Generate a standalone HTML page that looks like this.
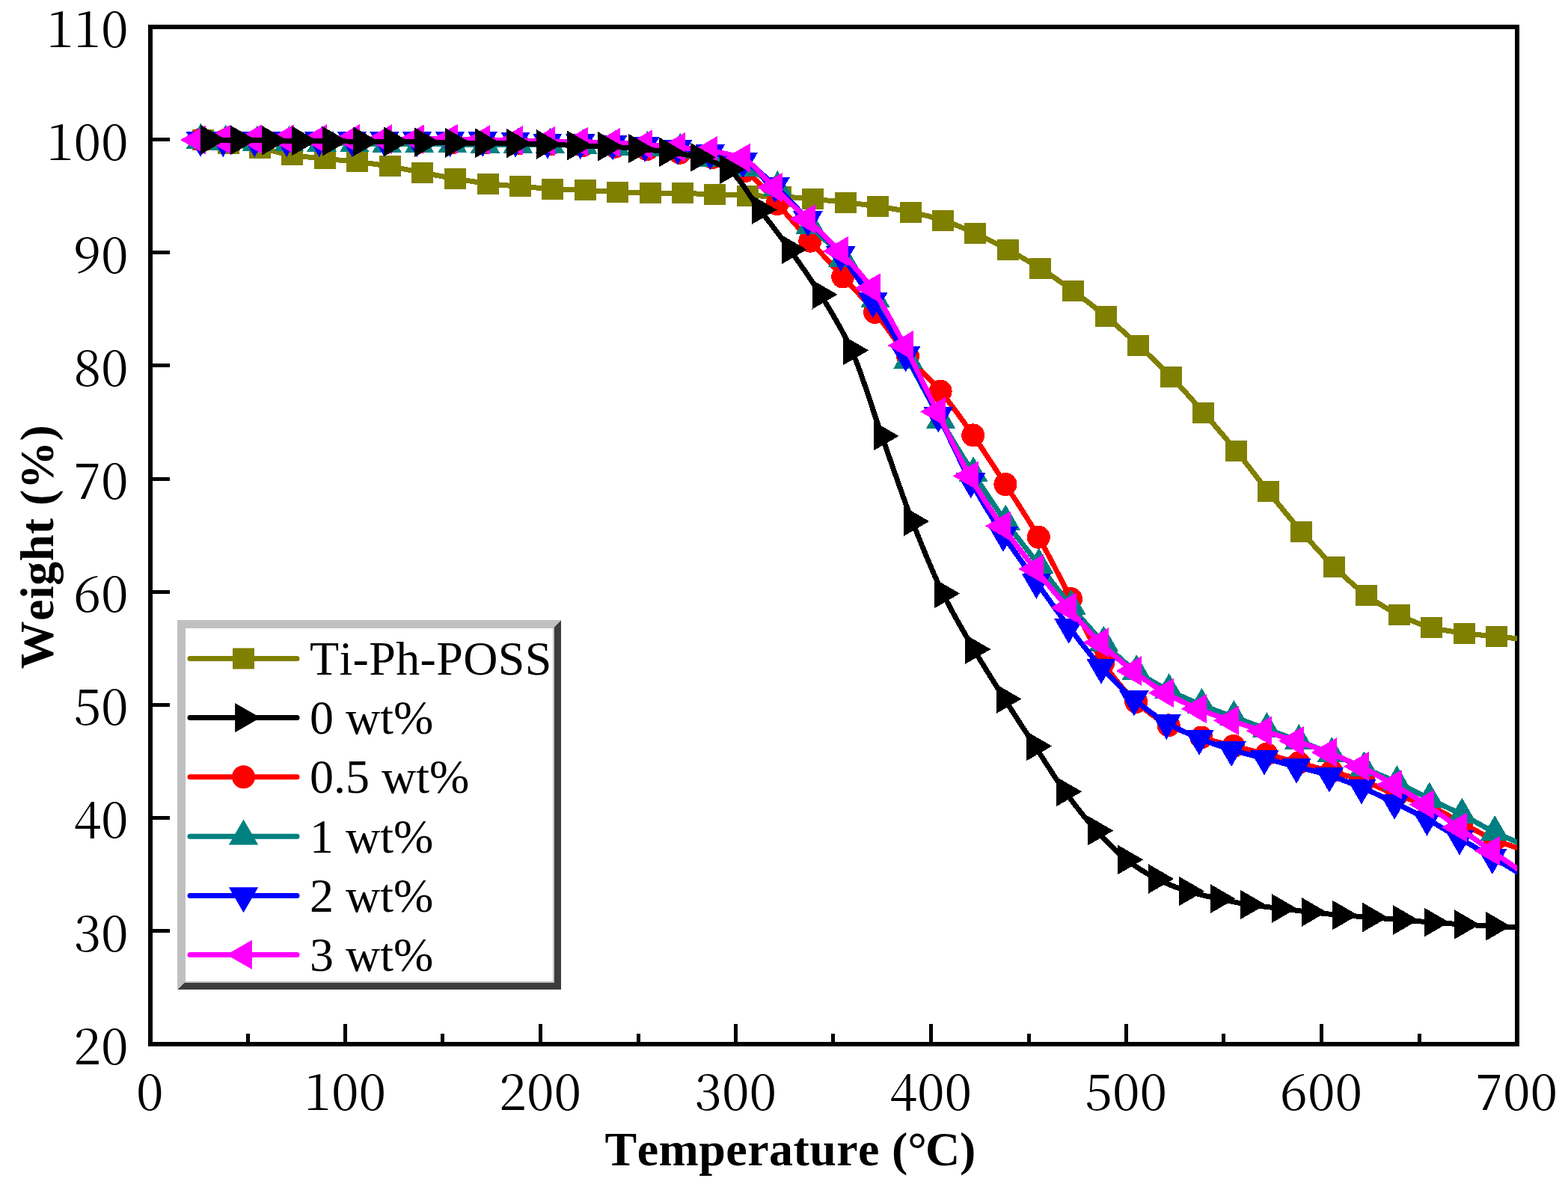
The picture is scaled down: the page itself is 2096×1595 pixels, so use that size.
<!DOCTYPE html>
<html lang="en"><head><meta charset="utf-8"><title>TGA curves</title>
<style>
html,body{margin:0;padding:0;background:#fff;}
body{width:2096px;height:1595px;overflow:hidden;}
svg{display:block;}
text{font-kerning:none;font-variant-ligatures:none;}
.tk{font-family:"Noto Serif CJK SC","Liberation Serif",serif;font-size:66.5px;fill:#000;}
.lg{font-family:"Liberation Serif","Noto Serif CJK SC",serif;font-size:64px;fill:#000;}
.ti{font-family:"Liberation Serif","Noto Serif CJK SC",serif;font-size:64px;font-weight:bold;fill:#000;}
</style></head><body>
<svg width="2096" height="1595" viewBox="0 0 2096 1595">
<rect x="0" y="0" width="2096" height="1595" fill="#fff"/>
<g fill="#000" shape-rendering="crispEdges">
<rect x="198" y="33" width="1833" height="6"/>
<rect x="198" y="1393" width="1833" height="6"/>
<rect x="198" y="33" width="6" height="1366"/>
<rect x="2025" y="33" width="6" height="1366"/>
<rect x="198" y="1242" width="29" height="5"/>
<rect x="198" y="1091" width="29" height="5"/>
<rect x="198" y="940" width="29" height="5"/>
<rect x="198" y="789" width="29" height="5"/>
<rect x="198" y="638" width="29" height="5"/>
<rect x="198" y="486" width="29" height="5"/>
<rect x="198" y="335" width="29" height="5"/>
<rect x="198" y="184" width="29" height="5"/>
<rect x="329" y="1382" width="5" height="17"/>
<rect x="459" y="1369" width="5" height="30"/>
<rect x="589" y="1382" width="5" height="17"/>
<rect x="720" y="1369" width="5" height="30"/>
<rect x="851" y="1382" width="5" height="17"/>
<rect x="981" y="1369" width="5" height="30"/>
<rect x="1111" y="1382" width="5" height="17"/>
<rect x="1242" y="1369" width="5" height="30"/>
<rect x="1373" y="1382" width="5" height="17"/>
<rect x="1503" y="1369" width="5" height="30"/>
<rect x="1633" y="1382" width="5" height="17"/>
<rect x="1764" y="1369" width="5" height="30"/>
<rect x="1895" y="1382" width="5" height="17"/>
</g>
<defs><clipPath id="pc"><rect x="198" y="33" width="1830" height="1366"/></clipPath></defs>
<g clip-path="url(#pc)" shape-rendering="crispEdges">
<g fill="#808000" stroke="none">
<path d="M271.5 186.6C282.8 188.5 294.2 190.6 305.5 192.4C319.5 194.6 333.5 195.9 347.5 198.3C361.8 200.7 376.1 205.2 390.4 207.3C405 209.5 419.7 210.8 434.3 212.3C448.6 213.8 463 214.7 477.3 216.3C491.9 217.9 506.4 220 521 222.4C535.5 224.8 550 228.2 564.5 230.9C579 233.6 593.5 236.3 608 238.7C622.7 241.1 637.4 243.8 652.1 245.5C666.4 247.1 680.7 248.2 695 249.3C709.6 250.5 724.3 251.7 738.9 252.5C753.3 253.3 767.7 253.7 782.1 254.4C796.5 255.1 811 255.9 825.4 256.5C840.1 257.1 854.9 257.6 869.6 257.9C883.7 258.1 897.9 258.1 912 258.4C926.6 258.7 941.3 259.5 955.9 260C970.4 260.5 984.9 261 999.4 261.5C1013.9 262 1028.5 262.2 1043 262.8C1057.5 263.4 1072.1 264.9 1086.6 266.2C1101.1 267.5 1115.5 268.9 1130 270.5C1144.5 272.1 1158.9 273.9 1173.4 276C1188 278.1 1202.6 280.5 1217.2 283.5C1231.7 286.5 1246.1 290 1260.6 294.5C1274.9 299 1289.3 305.6 1303.6 312C1318.2 318.6 1332.9 326 1347.5 333.9C1362 341.7 1376.4 350 1390.9 359.1C1405.4 368.2 1419.9 378.2 1434.4 388.8C1449.1 399.5 1463.7 410.9 1478.4 423.1C1492.8 435.1 1507.2 448.2 1521.6 461.5C1536.3 475.1 1550.9 488.8 1565.6 503.9C1580 518.7 1594.3 535.2 1608.7 551.5C1623.3 568.1 1638 585.2 1652.6 603C1666.9 620.4 1681.2 639.7 1695.5 657.4C1710.2 675.5 1724.8 693.8 1739.5 710.5C1754 727 1768.5 743.5 1783 757.5C1797.5 771.5 1811.9 785.1 1826.4 795.5C1841.1 806 1855.7 815.3 1870.4 822.3C1884.7 829.1 1899.1 835.7 1913.4 839.1C1928.1 842.6 1942.8 844.6 1957.5 846.5C1971.9 848.4 1986.2 849.7 2000.6 851.1C2009.7 852 2018.9 852.9 2028 853.7C2038 854.6 2048 855.4 2058 856.3" fill="none" stroke="#808000" stroke-width="7" stroke-linejoin="round"/>
<rect x="257" y="172.6" width="29" height="28"/><rect x="291" y="178.4" width="29" height="28"/><rect x="333" y="184.3" width="29" height="28"/><rect x="375.9" y="193.3" width="29" height="28"/><rect x="419.8" y="198.3" width="29" height="28"/><rect x="462.8" y="202.3" width="29" height="28"/><rect x="506.5" y="208.4" width="29" height="28"/><rect x="550" y="216.9" width="29" height="28"/><rect x="593.5" y="224.7" width="29" height="28"/><rect x="637.6" y="231.5" width="29" height="28"/><rect x="680.5" y="235.3" width="29" height="28"/><rect x="724.4" y="238.5" width="29" height="28"/><rect x="767.6" y="240.4" width="29" height="28"/><rect x="810.9" y="242.5" width="29" height="28"/><rect x="855.1" y="243.9" width="29" height="28"/><rect x="897.5" y="244.4" width="29" height="28"/><rect x="941.4" y="246" width="29" height="28"/><rect x="984.9" y="247.5" width="29" height="28"/><rect x="1028.5" y="248.8" width="29" height="28"/><rect x="1072.1" y="252.2" width="29" height="28"/><rect x="1115.5" y="256.5" width="29" height="28"/><rect x="1158.9" y="262" width="29" height="28"/><rect x="1202.7" y="269.5" width="29" height="28"/><rect x="1246.1" y="280.5" width="29" height="28"/><rect x="1289.1" y="298" width="29" height="28"/><rect x="1333" y="319.9" width="29" height="28"/><rect x="1376.4" y="345.1" width="29" height="28"/><rect x="1419.9" y="374.8" width="29" height="28"/><rect x="1463.9" y="409.1" width="29" height="28"/><rect x="1507.1" y="447.5" width="29" height="28"/><rect x="1551.1" y="489.9" width="29" height="28"/><rect x="1594.2" y="537.5" width="29" height="28"/><rect x="1638.1" y="589" width="29" height="28"/><rect x="1681" y="643.4" width="29" height="28"/><rect x="1725" y="696.5" width="29" height="28"/><rect x="1768.5" y="743.5" width="29" height="28"/><rect x="1811.9" y="781.5" width="29" height="28"/><rect x="1855.9" y="808.3" width="29" height="28"/><rect x="1898.9" y="825.1" width="29" height="28"/><rect x="1943" y="832.5" width="29" height="28"/><rect x="1986.1" y="837.1" width="29" height="28"/>
</g>
<g fill="#ff0000" stroke="none">
<path d="M268 187C279.1 187.2 290.1 187.4 301.2 187.5C315.2 187.7 329.2 187.8 343.2 188C357.5 188.2 371.8 188.3 386.1 188.5C400.6 188.7 415.1 188.9 429.6 189C444.2 189.1 458.9 189.3 473.5 189.4C487.9 189.5 502.4 189.7 516.8 189.8C531.3 189.9 545.8 190.1 560.3 190.2C575 190.3 589.8 190.5 604.5 190.6C619 190.7 633.5 190.8 648 190.9C662.6 191.1 677.3 191.5 691.9 191.8C706.2 192.1 720.5 192.4 734.8 192.8C749.4 193.2 764.1 194.1 778.7 194.7C793.1 195.3 807.6 195.5 822 196.2C836.3 196.9 850.6 198.2 864.9 199.5C879.5 200.8 894.2 202.4 908.8 204.2C923.3 206 937.7 207.4 952.2 210.5C966.8 213.6 981.4 219.9 996 228.5C1010.3 236.9 1024.6 257.2 1038.9 272.6C1053.5 288.3 1068.2 306 1082.8 322.2C1097.4 338.4 1112.1 353.9 1126.7 370C1141 385.7 1155.3 400.2 1169.6 417.5C1184.3 435.3 1198.9 458.8 1213.6 476.3C1228.1 493.6 1242.7 505.7 1257.2 523.1C1271.7 540.5 1286.2 561.2 1300.7 581.9C1315.1 602.5 1329.5 625.1 1343.9 647.5C1358.7 670.5 1373.5 692.5 1388.3 718.2C1402.7 743.2 1417.2 772.7 1431.6 800.7C1446 828.7 1460.5 864.5 1474.9 886C1489.5 907.8 1504.2 925.2 1518.8 938.4C1533.3 951.4 1547.7 962.7 1562.2 969.8C1576.8 977 1591.4 981.5 1606 986C1620.3 990.4 1634.7 993.8 1649 997.5C1663.7 1001.3 1678.3 1004.5 1693 1008.3C1707.3 1012 1721.7 1016.2 1736 1020C1750.6 1023.9 1765.2 1027.5 1779.8 1031.5C1794.2 1035.5 1808.5 1039 1822.9 1044C1837.6 1049.1 1852.3 1057.5 1867 1063C1881.5 1068.4 1895.9 1071.5 1910.4 1077.3C1924.9 1083.2 1939.4 1092.4 1953.9 1100C1968.5 1107.7 1983.2 1117 1997.8 1123C2007.9 1127.2 2017.9 1130 2028 1133.5C2038 1137 2048 1140.5 2058 1144" fill="none" stroke="#ff0000" stroke-width="7" stroke-linejoin="round"/>
<circle cx="268" cy="187" r="15.5"/><circle cx="301.2" cy="187.5" r="15.5"/><circle cx="343.2" cy="188" r="15.5"/><circle cx="386.1" cy="188.5" r="15.5"/><circle cx="429.6" cy="189" r="15.5"/><circle cx="473.5" cy="189.4" r="15.5"/><circle cx="516.8" cy="189.8" r="15.5"/><circle cx="560.3" cy="190.2" r="15.5"/><circle cx="604.5" cy="190.6" r="15.5"/><circle cx="648" cy="190.9" r="15.5"/><circle cx="691.9" cy="191.8" r="15.5"/><circle cx="734.8" cy="192.8" r="15.5"/><circle cx="778.7" cy="194.7" r="15.5"/><circle cx="822" cy="196.2" r="15.5"/><circle cx="864.9" cy="199.5" r="15.5"/><circle cx="908.8" cy="204.2" r="15.5"/><circle cx="952.2" cy="210.5" r="15.5"/><circle cx="996" cy="228.5" r="15.5"/><circle cx="1038.9" cy="272.6" r="15.5"/><circle cx="1082.8" cy="322.2" r="15.5"/><circle cx="1126.7" cy="370" r="15.5"/><circle cx="1169.6" cy="417.5" r="15.5"/><circle cx="1213.6" cy="476.3" r="15.5"/><circle cx="1257.2" cy="523.1" r="15.5"/><circle cx="1300.7" cy="581.9" r="15.5"/><circle cx="1343.9" cy="647.5" r="15.5"/><circle cx="1388.3" cy="718.2" r="15.5"/><circle cx="1431.6" cy="800.7" r="15.5"/><circle cx="1474.9" cy="886" r="15.5"/><circle cx="1518.8" cy="938.4" r="15.5"/><circle cx="1562.2" cy="969.8" r="15.5"/><circle cx="1606" cy="986" r="15.5"/><circle cx="1649" cy="997.5" r="15.5"/><circle cx="1693" cy="1008.3" r="15.5"/><circle cx="1736" cy="1020" r="15.5"/><circle cx="1779.8" cy="1031.5" r="15.5"/><circle cx="1822.9" cy="1044" r="15.5"/><circle cx="1867" cy="1063" r="15.5"/><circle cx="1910.4" cy="1077.3" r="15.5"/><circle cx="1953.9" cy="1100" r="15.5"/><circle cx="1997.8" cy="1123" r="15.5"/>
</g>
<g fill="#008080" stroke="none">
<path d="M268.4 187.4C279.5 188.1 290.5 189.1 301.6 189.5C315.6 190 329.6 190.4 343.6 190.5C357.9 190.6 372.2 190.6 386.5 190.7C401 190.8 415.5 191 430 191.2C444.6 191.4 459.3 191.6 473.9 191.8C488.3 192 502.8 192.1 517.2 192.3C531.7 192.5 546.2 192.7 560.7 192.8C575.4 192.9 590.2 193 604.9 193.1C619.4 193.1 633.9 193.2 648.4 193.2C663 193.2 677.7 193.2 692.3 193.2C706.6 193.2 720.9 193.3 735.2 193.5C749.8 193.7 764.5 194.2 779.1 194.7C793.5 195.2 808 196.2 822.4 196.6C836.7 197 851 197 865.3 197.4C879.9 197.8 894.6 198.8 909.2 200.4C923.7 202 938.1 207.9 952.6 212C967.2 216.1 981.8 219.2 996.4 225C1010.7 230.7 1025 239.5 1039.3 250.8C1053.9 262.4 1068.6 285.7 1083.2 301.4C1097.8 317.1 1112.5 328.9 1127.1 345.3C1141.4 361.3 1155.7 378.2 1170 399.7C1184.7 421.8 1199.3 454.2 1214 481.3C1228.5 508.1 1243.1 536.3 1257.6 561.5C1272.1 586.7 1286.6 610.3 1301.1 633C1315.5 655.5 1329.9 677.3 1344.3 697.3C1359.1 717.9 1373.9 736.1 1388.7 755.2C1403.1 773.8 1417.6 793.3 1432 810.6C1446.4 827.9 1460.9 845 1475.3 859.2C1489.9 873.6 1504.6 887.6 1519.2 897.8C1533.7 907.9 1548.1 915.6 1562.6 922.9C1577.2 930.3 1591.8 936.5 1606.4 942.5C1620.7 948.4 1635.1 953.4 1649.4 958.7C1664.1 964.1 1678.7 969.4 1693.4 974.8C1707.7 980.1 1722.1 985.1 1736.4 990.6C1751 996.2 1765.6 1001.8 1780.2 1007.9C1794.6 1013.9 1808.9 1020.7 1823.3 1027C1838 1033.4 1852.7 1039 1867.4 1045.9C1881.9 1052.7 1896.3 1061 1910.8 1068.2C1925.3 1075.4 1939.8 1081.8 1954.3 1089.2C1968.9 1096.6 1983.6 1105.7 1998.2 1112.8C2008.1 1117.6 2018.1 1121.6 2028 1126C2038 1130.4 2048 1134.8 2058 1139.2" fill="none" stroke="#008080" stroke-width="7" stroke-linejoin="round"/>
<polygon points="268.4,164.7 248.7,198.8 288.1,198.8"/><polygon points="301.6,166.8 281.9,200.8 321.3,200.8"/><polygon points="343.6,167.8 323.9,201.8 363.3,201.8"/><polygon points="386.5,168 366.8,202 406.2,202"/><polygon points="430,168.5 410.3,202.5 449.7,202.5"/><polygon points="473.9,169.1 454.2,203.2 493.6,203.2"/><polygon points="517.2,169.6 497.5,203.7 536.9,203.7"/><polygon points="560.7,170.1 541,204.2 580.4,204.2"/><polygon points="604.9,170.4 585.2,204.4 624.6,204.4"/><polygon points="648.4,170.5 628.7,204.5 668.1,204.5"/><polygon points="692.3,170.5 672.6,204.5 712,204.5"/><polygon points="735.2,170.8 715.5,204.8 754.9,204.8"/><polygon points="779.1,172 759.4,206 798.8,206"/><polygon points="822.4,173.9 802.7,207.9 842.1,207.9"/><polygon points="865.3,174.7 845.6,208.8 885,208.8"/><polygon points="909.2,177.7 889.5,211.8 928.9,211.8"/><polygon points="952.6,189.3 932.9,223.3 972.3,223.3"/><polygon points="996.4,202.3 976.7,236.3 1016.1,236.3"/><polygon points="1039.3,228.1 1019.6,262.2 1059,262.2"/><polygon points="1083.2,278.7 1063.5,312.8 1102.9,312.8"/><polygon points="1127.1,322.6 1107.4,356.7 1146.8,356.7"/><polygon points="1170,377 1150.3,411.1 1189.7,411.1"/><polygon points="1214,458.6 1194.3,492.7 1233.7,492.7"/><polygon points="1257.6,538.8 1237.9,572.9 1277.3,572.9"/><polygon points="1301.1,610.3 1281.4,644.4 1320.8,644.4"/><polygon points="1344.3,674.6 1324.6,708.6 1364,708.6"/><polygon points="1388.7,732.5 1369,766.6 1408.4,766.6"/><polygon points="1432,787.9 1412.3,822 1451.7,822"/><polygon points="1475.3,836.5 1455.6,870.6 1495,870.6"/><polygon points="1519.2,875.1 1499.5,909.1 1538.9,909.1"/><polygon points="1562.6,900.2 1542.9,934.2 1582.3,934.2"/><polygon points="1606.4,919.8 1586.7,953.9 1626.1,953.9"/><polygon points="1649.4,936 1629.7,970.1 1669.1,970.1"/><polygon points="1693.4,952.1 1673.7,986.1 1713.1,986.1"/><polygon points="1736.4,967.9 1716.7,1002 1756.1,1002"/><polygon points="1780.2,985.2 1760.5,1019.2 1799.9,1019.2"/><polygon points="1823.3,1004.3 1803.6,1038.3 1843,1038.3"/><polygon points="1867.4,1023.2 1847.7,1057.2 1887.1,1057.2"/><polygon points="1910.8,1045.5 1891.1,1079.5 1930.5,1079.5"/><polygon points="1954.3,1066.5 1934.6,1100.5 1974,1100.5"/><polygon points="1998.2,1090.1 1978.5,1124.1 2017.9,1124.1"/>
</g>
<g fill="#0000ff" stroke="none">
<path d="M268.1 187.2C278.2 187.2 288.2 187.3 298.3 187.3C312.3 187.3 326.3 187.4 340.3 187.4C354.6 187.4 368.9 187.4 383.2 187.4C397.7 187.4 412.2 187.4 426.7 187.4C441.3 187.4 456 187.4 470.6 187.4C485 187.4 499.5 187.4 513.9 187.4C528.4 187.4 542.9 187.4 557.4 187.4C572.1 187.4 586.9 187.4 601.6 187.4C616.1 187.4 630.6 187.4 645.1 187.4C659.7 187.4 674.4 187.7 689 188C703.3 188.3 717.6 189.6 731.9 189.9C746.5 190.2 761.2 190.2 775.8 190.5C790.2 190.8 804.7 191.2 819.1 191.8C833.4 192.4 847.7 193.3 862 194.3C876.6 195.3 891.3 196.5 905.9 198.1C920.4 199.7 934.8 201.9 949.3 204.6C963.9 207.3 978.5 210 993.1 215.5C1007.4 220.9 1021.7 235.9 1036 248.5C1050.6 261.4 1065.3 278.5 1079.9 293.8C1094.5 309.1 1109.2 322.5 1123.8 340.5C1138.1 358.1 1152.4 380.7 1166.7 402.7C1181.4 425.2 1196 449.1 1210.7 474.6C1225.2 499.9 1239.8 527.5 1254.3 555.7C1268.8 583.8 1283.3 617.3 1297.8 643.7C1312.2 669.9 1326.6 693.2 1341 715.2C1355.8 737.8 1370.6 757.4 1385.4 778.1C1399.8 798.3 1414.3 819.2 1428.7 838.1C1443.1 857 1457.6 876.3 1472 892.1C1486.6 908.1 1501.3 922.7 1515.9 934.8C1530.4 946.8 1544.8 957.9 1559.3 966.2C1573.9 974.6 1588.5 981.3 1603.1 987.2C1617.4 993 1631.8 998.1 1646.1 1002.4C1660.8 1006.8 1675.4 1010.1 1690.1 1013.9C1704.4 1017.6 1718.8 1021.2 1733.1 1025C1747.7 1028.8 1762.3 1032.2 1776.9 1036.8C1791.3 1041.3 1805.6 1046.9 1820 1052.8C1834.7 1058.9 1849.4 1066.1 1864.1 1073.2C1878.6 1080.2 1893 1087.1 1907.5 1095C1922 1102.9 1936.5 1112.3 1951 1120.8C1965.6 1129.4 1980.3 1137.6 1994.9 1146.2C2005.9 1152.7 2017 1159.1 2028 1166C2038 1172.3 2048 1179.2 2058 1185.8" fill="none" stroke="#0000ff" stroke-width="7" stroke-linejoin="round"/>
<polygon points="268.1,209.9 248.4,175.8 287.8,175.8"/><polygon points="298.3,210 278.6,176 318,176"/><polygon points="340.3,210.1 320.6,176.1 360,176.1"/><polygon points="383.2,210.1 363.5,176.1 402.9,176.1"/><polygon points="426.7,210.1 407,176.1 446.4,176.1"/><polygon points="470.6,210.1 450.9,176.1 490.3,176.1"/><polygon points="513.9,210.1 494.2,176.1 533.6,176.1"/><polygon points="557.4,210.1 537.7,176.1 577.1,176.1"/><polygon points="601.6,210.1 581.9,176.1 621.3,176.1"/><polygon points="645.1,210.1 625.4,176.1 664.8,176.1"/><polygon points="689,210.7 669.3,176.7 708.7,176.7"/><polygon points="731.9,212.6 712.2,178.6 751.6,178.6"/><polygon points="775.8,213.2 756.1,179.2 795.5,179.2"/><polygon points="819.1,214.5 799.4,180.5 838.8,180.5"/><polygon points="862,217 842.3,183 881.7,183"/><polygon points="905.9,220.8 886.2,186.8 925.6,186.8"/><polygon points="949.3,227.3 929.6,193.2 969,193.2"/><polygon points="993.1,238.2 973.4,204.2 1012.8,204.2"/><polygon points="1036,271.2 1016.3,237.2 1055.7,237.2"/><polygon points="1079.9,316.5 1060.2,282.4 1099.6,282.4"/><polygon points="1123.8,363.2 1104.1,329.1 1143.5,329.1"/><polygon points="1166.7,425.4 1147,391.3 1186.4,391.3"/><polygon points="1210.7,497.3 1191,463.2 1230.4,463.2"/><polygon points="1254.3,578.4 1234.6,544.4 1274,544.4"/><polygon points="1297.8,666.4 1278.1,632.4 1317.5,632.4"/><polygon points="1341,737.9 1321.3,703.9 1360.7,703.9"/><polygon points="1385.4,800.8 1365.7,766.8 1405.1,766.8"/><polygon points="1428.7,860.8 1409,826.8 1448.4,826.8"/><polygon points="1472,914.8 1452.3,880.8 1491.7,880.8"/><polygon points="1515.9,957.5 1496.2,923.4 1535.6,923.4"/><polygon points="1559.3,988.9 1539.6,954.9 1579,954.9"/><polygon points="1603.1,1009.9 1583.4,975.9 1622.8,975.9"/><polygon points="1646.1,1025.1 1626.4,991 1665.8,991"/><polygon points="1690.1,1036.6 1670.4,1002.5 1709.8,1002.5"/><polygon points="1733.1,1047.7 1713.4,1013.6 1752.8,1013.6"/><polygon points="1776.9,1059.5 1757.2,1025.5 1796.6,1025.5"/><polygon points="1820,1075.5 1800.3,1041.5 1839.7,1041.5"/><polygon points="1864.1,1095.9 1844.4,1061.9 1883.8,1061.9"/><polygon points="1907.5,1117.7 1887.8,1083.7 1927.2,1083.7"/><polygon points="1951,1143.5 1931.3,1109.5 1970.7,1109.5"/><polygon points="1994.9,1168.9 1975.2,1134.9 2014.6,1134.9"/>
</g>
<g fill="#ff00ff" stroke="none">
<path d="M263.6 187C274.7 186.8 285.7 186.4 296.8 186.3C310.8 186.1 324.8 186 338.8 186C353.1 186 367.4 186 381.7 186C396.2 186 410.7 186 425.2 186C439.8 186 454.5 186 469.1 186C483.5 186 498 186 512.4 186C526.9 186 541.4 186 555.9 186C570.6 186 585.4 185.7 600.1 185.7C614.6 185.7 629.1 186.6 643.6 186.9C658.2 187.2 672.9 187.5 687.5 187.8C701.8 188.1 716.1 188.5 730.4 188.8C745 189.1 759.7 189.4 774.3 189.7C788.7 190 803.2 190.2 817.6 190.7C831.9 191.2 846.2 192.2 860.5 193.2C875.1 194.2 889.8 195.4 904.4 196.8C918.9 198.2 933.3 199.5 947.8 201.6C962.4 203.8 977 206.1 991.6 211.3C1005.9 216.4 1020.2 237.2 1034.5 250.6C1049.1 264.3 1063.8 278.6 1078.4 292.8C1093 307 1107.7 320.3 1122.3 335.8C1136.6 350.9 1150.9 365.4 1165.2 385.2C1179.9 405.5 1194.5 434.5 1209.2 462C1223.7 489.3 1238.3 521.3 1252.8 550.4C1267.3 579.4 1281.8 611.1 1296.3 636.3C1310.7 661.3 1325.1 683 1339.5 703.3C1354.3 724.2 1369.1 742.5 1383.9 760.8C1398.3 778.7 1412.8 796 1427.2 812.3C1441.6 828.6 1456.1 845.1 1470.5 859C1485.1 873.1 1499.8 885.9 1514.4 897C1528.9 908 1543.3 918.2 1557.8 926.4C1572.4 934.6 1587 941.5 1601.6 947.6C1615.9 953.6 1630.3 958.4 1644.6 963.3C1659.3 968.3 1673.9 972.6 1688.6 977.2C1702.9 981.7 1717.3 985.8 1731.6 990.5C1746.2 995.3 1760.8 1000.3 1775.4 1006C1789.8 1011.6 1804.1 1017.7 1818.5 1024.7C1833.2 1031.8 1847.9 1040.5 1862.6 1049C1877.1 1057.4 1891.5 1066.1 1906 1075.6C1920.5 1085.1 1935 1095.8 1949.5 1106.1C1964.1 1116.5 1978.8 1127.3 1993.4 1137.6C2004.9 1145.7 2016.5 1152.9 2028 1161.4C2038 1168.8 2048 1177.3 2058 1185.2" fill="none" stroke="#ff00ff" stroke-width="7" stroke-linejoin="round"/>
<polygon points="240.9,187 275,167.3 275,206.7"/><polygon points="274.1,186.3 308.2,166.6 308.2,206"/><polygon points="316.1,186 350.2,166.3 350.2,205.7"/><polygon points="359,186 393.1,166.3 393.1,205.7"/><polygon points="402.5,186 436.6,166.3 436.6,205.7"/><polygon points="446.4,186 480.5,166.3 480.5,205.7"/><polygon points="489.7,186 523.8,166.3 523.8,205.7"/><polygon points="533.2,186 567.2,166.3 567.2,205.7"/><polygon points="577.4,185.7 611.5,166 611.5,205.4"/><polygon points="620.9,186.9 655,167.2 655,206.6"/><polygon points="664.8,187.8 698.9,168.1 698.9,207.5"/><polygon points="707.7,188.8 741.8,169.1 741.8,208.5"/><polygon points="751.6,189.7 785.6,170 785.6,209.4"/><polygon points="794.9,190.7 829,171 829,210.4"/><polygon points="837.8,193.2 871.9,173.5 871.9,212.9"/><polygon points="881.7,196.8 915.8,177.1 915.8,216.5"/><polygon points="925.1,201.6 959.1,181.9 959.1,221.3"/><polygon points="968.9,211.3 1003,191.6 1003,231"/><polygon points="1011.8,250.6 1045.8,230.9 1045.8,270.3"/><polygon points="1055.7,292.8 1089.8,273.1 1089.8,312.5"/><polygon points="1099.6,335.8 1133.6,316.1 1133.6,355.5"/><polygon points="1142.5,385.2 1176.5,365.5 1176.5,404.9"/><polygon points="1186.5,462 1220.5,442.3 1220.5,481.7"/><polygon points="1230.1,550.4 1264.1,530.7 1264.1,570.1"/><polygon points="1273.6,636.3 1307.6,616.6 1307.6,656"/><polygon points="1316.8,703.3 1350.8,683.6 1350.8,723"/><polygon points="1361.2,760.8 1395.2,741.1 1395.2,780.5"/><polygon points="1404.5,812.3 1438.5,792.6 1438.5,832"/><polygon points="1447.8,859 1481.8,839.3 1481.8,878.7"/><polygon points="1491.7,897 1525.8,877.3 1525.8,916.7"/><polygon points="1535.1,926.4 1569.1,906.7 1569.1,946.1"/><polygon points="1578.9,947.6 1612.9,927.9 1612.9,967.3"/><polygon points="1621.9,963.3 1655.9,943.6 1655.9,983"/><polygon points="1665.9,977.2 1699.9,957.5 1699.9,996.9"/><polygon points="1708.9,990.5 1742.9,970.8 1742.9,1010.2"/><polygon points="1752.7,1006 1786.8,986.3 1786.8,1025.7"/><polygon points="1795.8,1024.7 1829.8,1005 1829.8,1044.4"/><polygon points="1839.9,1049 1873.9,1029.3 1873.9,1068.7"/><polygon points="1883.3,1075.6 1917.3,1055.9 1917.3,1095.3"/><polygon points="1926.8,1106.1 1960.8,1086.4 1960.8,1125.8"/><polygon points="1970.7,1137.6 2004.8,1117.9 2004.8,1157.3"/>
</g>
<g fill="#000000" stroke="none">
<path d="M279.7 186.9C293 187.1 306.3 187.3 319.6 187.4C333.6 187.6 347.6 187.6 361.6 187.8C375 188 388.4 188.2 401.8 188.4C415.4 188.6 429.1 188.7 442.7 188.8C456.4 188.9 470 189.1 483.7 189.2C497.4 189.3 511 189.3 524.7 189.4C538.3 189.5 552 189.9 565.6 190.1C579.3 190.3 593.1 190.7 606.8 190.9C620.1 191.1 633.4 191.2 646.7 191.3C660.6 191.4 674.6 191.5 688.5 191.7C701.9 191.9 715.2 192.5 728.6 193C742.3 193.5 756.1 194 769.8 194.5C783.4 195 797 195.2 810.6 195.8C824.2 196.4 837.9 197.4 851.5 198.6C865.2 199.8 879 201.4 892.7 203.3C906.4 205.2 920.2 207 933.9 210.3C947.1 213.5 960.3 218.4 973.5 226.5C987.6 235.2 1001.8 262.1 1015.9 280.5C1029.2 297.8 1042.5 315.1 1055.8 333.7C1069.5 352.8 1083.1 371.8 1096.8 393.8C1110.7 416.2 1124.6 437.8 1138.5 468.4C1151.9 497.9 1165.4 545 1178.8 582.9C1192.4 621.2 1206 662.2 1219.6 697C1233.2 731.9 1246.9 765.6 1260.5 793.5C1274.2 821.6 1288 844.5 1301.7 868C1315.4 891.4 1329.1 912.8 1342.8 934.5C1356.4 956 1369.9 976.7 1383.5 997.5C1396.9 1018 1410.2 1040.1 1423.6 1058.4C1437.6 1077.5 1451.6 1095.3 1465.6 1110.5C1478.9 1125 1492.3 1139.3 1505.6 1149.4C1519.3 1159.8 1532.9 1168.3 1546.6 1175C1560.2 1181.7 1573.8 1187.4 1587.4 1191.5C1601.2 1195.7 1615.1 1198.6 1628.9 1201.6C1642.4 1204.5 1655.9 1207.5 1669.4 1209.5C1683.2 1211.6 1697 1212.8 1710.8 1214.5C1724.1 1216.1 1737.5 1217.9 1750.8 1219.4C1764.7 1220.9 1778.7 1222.3 1792.6 1223.5C1806 1224.6 1819.3 1225.4 1832.7 1226.5C1846.4 1227.6 1860 1228.9 1873.7 1230C1887.4 1231.1 1901.1 1232.1 1914.8 1233.1C1928.4 1234.1 1941.9 1235.2 1955.5 1236C1969.3 1236.9 1983.1 1237.5 1996.9 1238.3C2007.3 1238.9 2017.6 1239.4 2028 1240C2038 1240.6 2048 1241.1 2058 1241.7" fill="none" stroke="#000000" stroke-width="7" stroke-linejoin="round"/>
<polygon points="302.4,186.9 268.3,167.2 268.3,206.6"/><polygon points="342.3,187.4 308.2,167.7 308.2,207.1"/><polygon points="384.3,187.8 350.2,168.1 350.2,207.5"/><polygon points="424.5,188.4 390.4,168.7 390.4,208.1"/><polygon points="465.4,188.8 431.3,169.1 431.3,208.5"/><polygon points="506.4,189.2 472.3,169.5 472.3,208.9"/><polygon points="547.4,189.4 513.4,169.7 513.4,209.1"/><polygon points="588.3,190.1 554.2,170.4 554.2,209.8"/><polygon points="629.5,190.9 595.4,171.2 595.4,210.6"/><polygon points="669.4,191.3 635.4,171.6 635.4,211"/><polygon points="711.2,191.7 677.1,172 677.1,211.4"/><polygon points="751.3,193 717.2,173.3 717.2,212.7"/><polygon points="792.5,194.5 758.4,174.8 758.4,214.2"/><polygon points="833.3,195.8 799.2,176.1 799.2,215.5"/><polygon points="874.2,198.6 840.1,178.9 840.1,218.3"/><polygon points="915.4,203.3 881.4,183.6 881.4,223"/><polygon points="956.6,210.3 922.5,190.6 922.5,230"/><polygon points="996.2,226.5 962.1,206.8 962.1,246.2"/><polygon points="1038.6,280.5 1004.5,260.8 1004.5,300.2"/><polygon points="1078.5,333.7 1044.5,314 1044.5,353.4"/><polygon points="1119.5,393.8 1085.5,374.1 1085.5,413.5"/><polygon points="1161.2,468.4 1127.2,448.7 1127.2,488.1"/><polygon points="1201.5,582.9 1167.5,563.2 1167.5,602.6"/><polygon points="1242.3,697 1208.2,677.3 1208.2,716.7"/><polygon points="1283.2,793.5 1249.2,773.8 1249.2,813.2"/><polygon points="1324.4,868 1290.4,848.3 1290.4,887.7"/><polygon points="1365.5,934.5 1331.5,914.8 1331.5,954.2"/><polygon points="1406.2,997.5 1372.2,977.8 1372.2,1017.2"/><polygon points="1446.3,1058.4 1412.2,1038.7 1412.2,1078.1"/><polygon points="1488.3,1110.5 1454.2,1090.8 1454.2,1130.2"/><polygon points="1528.3,1149.4 1494.2,1129.7 1494.2,1169.1"/><polygon points="1569.3,1175 1535.2,1155.3 1535.2,1194.7"/><polygon points="1610.1,1191.5 1576.1,1171.8 1576.1,1211.2"/><polygon points="1651.6,1201.6 1617.6,1181.9 1617.6,1221.3"/><polygon points="1692.1,1209.5 1658.1,1189.8 1658.1,1229.2"/><polygon points="1733.5,1214.5 1699.5,1194.8 1699.5,1234.2"/><polygon points="1773.5,1219.4 1739.5,1199.7 1739.5,1239.1"/><polygon points="1815.3,1223.5 1781.2,1203.8 1781.2,1243.2"/><polygon points="1855.4,1226.5 1821.4,1206.8 1821.4,1246.2"/><polygon points="1896.4,1230 1862.4,1210.3 1862.4,1249.7"/><polygon points="1937.5,1233.1 1903.5,1213.4 1903.5,1252.8"/><polygon points="1978.2,1236 1944.2,1216.3 1944.2,1255.7"/><polygon points="2019.6,1238.3 1985.6,1218.6 1985.6,1258"/>
</g>
</g>
<g shape-rendering="crispEdges">
<rect x="237" y="829" width="513" height="494" fill="#c0c0c0"/>
<polygon points="750,829 750,1323 237,1323 246,1314 741,1314 741,838" fill="#3c3c3c"/>
<rect x="246" y="838" width="495" height="476" fill="#c0c0c0"/>
<rect x="248" y="840" width="491" height="472" fill="#fff"/>
</g>
<g fill="#808000"><rect x="250.5" y="877" width="150" height="7" rx="3.5"/><rect x="311" y="866.5" width="29" height="28"/></g>
<text class="lg" x="414" y="902.2" letter-spacing="0.35">Ti-Ph-POSS</text>
<g fill="#000000"><rect x="250.5" y="956.1" width="150" height="7" rx="3.5"/><polygon points="348.2,959.6 314.1,939.9 314.1,979.3"/></g>
<text class="lg" x="414" y="981.3">0 wt%</text>
<g fill="#ff0000"><rect x="250.5" y="1035.2" width="150" height="7" rx="3.5"/><circle cx="325.5" cy="1038.7" r="15.5"/></g>
<text class="lg" x="414" y="1060.4">0.5 wt%</text>
<g fill="#008080"><rect x="250.5" y="1114.7" width="150" height="7" rx="3.5"/><polygon points="325.5,1095.5 305.8,1129.5 345.2,1129.5"/></g>
<text class="lg" x="414" y="1139.5">1 wt%</text>
<g fill="#0000ff"><rect x="250.5" y="1194" width="150" height="7" rx="3.5"/><polygon points="325.5,1220.2 305.8,1186.2 345.2,1186.2"/></g>
<text class="lg" x="414" y="1218.6">2 wt%</text>
<g fill="#ff00ff"><rect x="250.5" y="1272.9" width="150" height="7" rx="3.5"/><polygon points="302.8,1276.4 336.9,1256.7 336.9,1296.1"/></g>
<text class="lg" x="414" y="1297.7">3 wt%</text>
<text class="tk" x="171.7" y="1422.6" text-anchor="end">20</text>
<text class="tk" x="171.7" y="1271.5" text-anchor="end">30</text>
<text class="tk" x="171.7" y="1120.4" text-anchor="end">40</text>
<text class="tk" x="171.7" y="969.3" text-anchor="end">50</text>
<text class="tk" x="171.7" y="818.2" text-anchor="end">60</text>
<text class="tk" x="171.7" y="667" text-anchor="end">70</text>
<text class="tk" x="171.7" y="515.9" text-anchor="end">80</text>
<text class="tk" x="171.7" y="364.8" text-anchor="end">90</text>
<text class="tk" x="171.7" y="213.7" text-anchor="end">100</text>
<text class="tk" x="171.7" y="62.6" text-anchor="end">110</text>
<text class="tk" x="200.2" y="1484.3" text-anchor="middle">0</text>
<text class="tk" x="461.2" y="1484.3" text-anchor="middle">100</text>
<text class="tk" x="722.2" y="1484.3" text-anchor="middle">200</text>
<text class="tk" x="983.2" y="1484.3" text-anchor="middle">300</text>
<text class="tk" x="1244.2" y="1484.3" text-anchor="middle">400</text>
<text class="tk" x="1505.2" y="1484.3" text-anchor="middle">500</text>
<text class="tk" x="1766.2" y="1484.3" text-anchor="middle">600</text>
<text class="tk" x="2027.2" y="1484.3" text-anchor="middle">700</text>
<text class="ti" x="808.5" y="1558"><tspan letter-spacing="0.45">Temperature</tspan> (°<tspan dx="-2">C</tspan>)</text>
<text class="ti" transform="translate(70.7,894.5) rotate(-90)" letter-spacing="0.5">Weight (%)</text>
</svg>
</body></html>
